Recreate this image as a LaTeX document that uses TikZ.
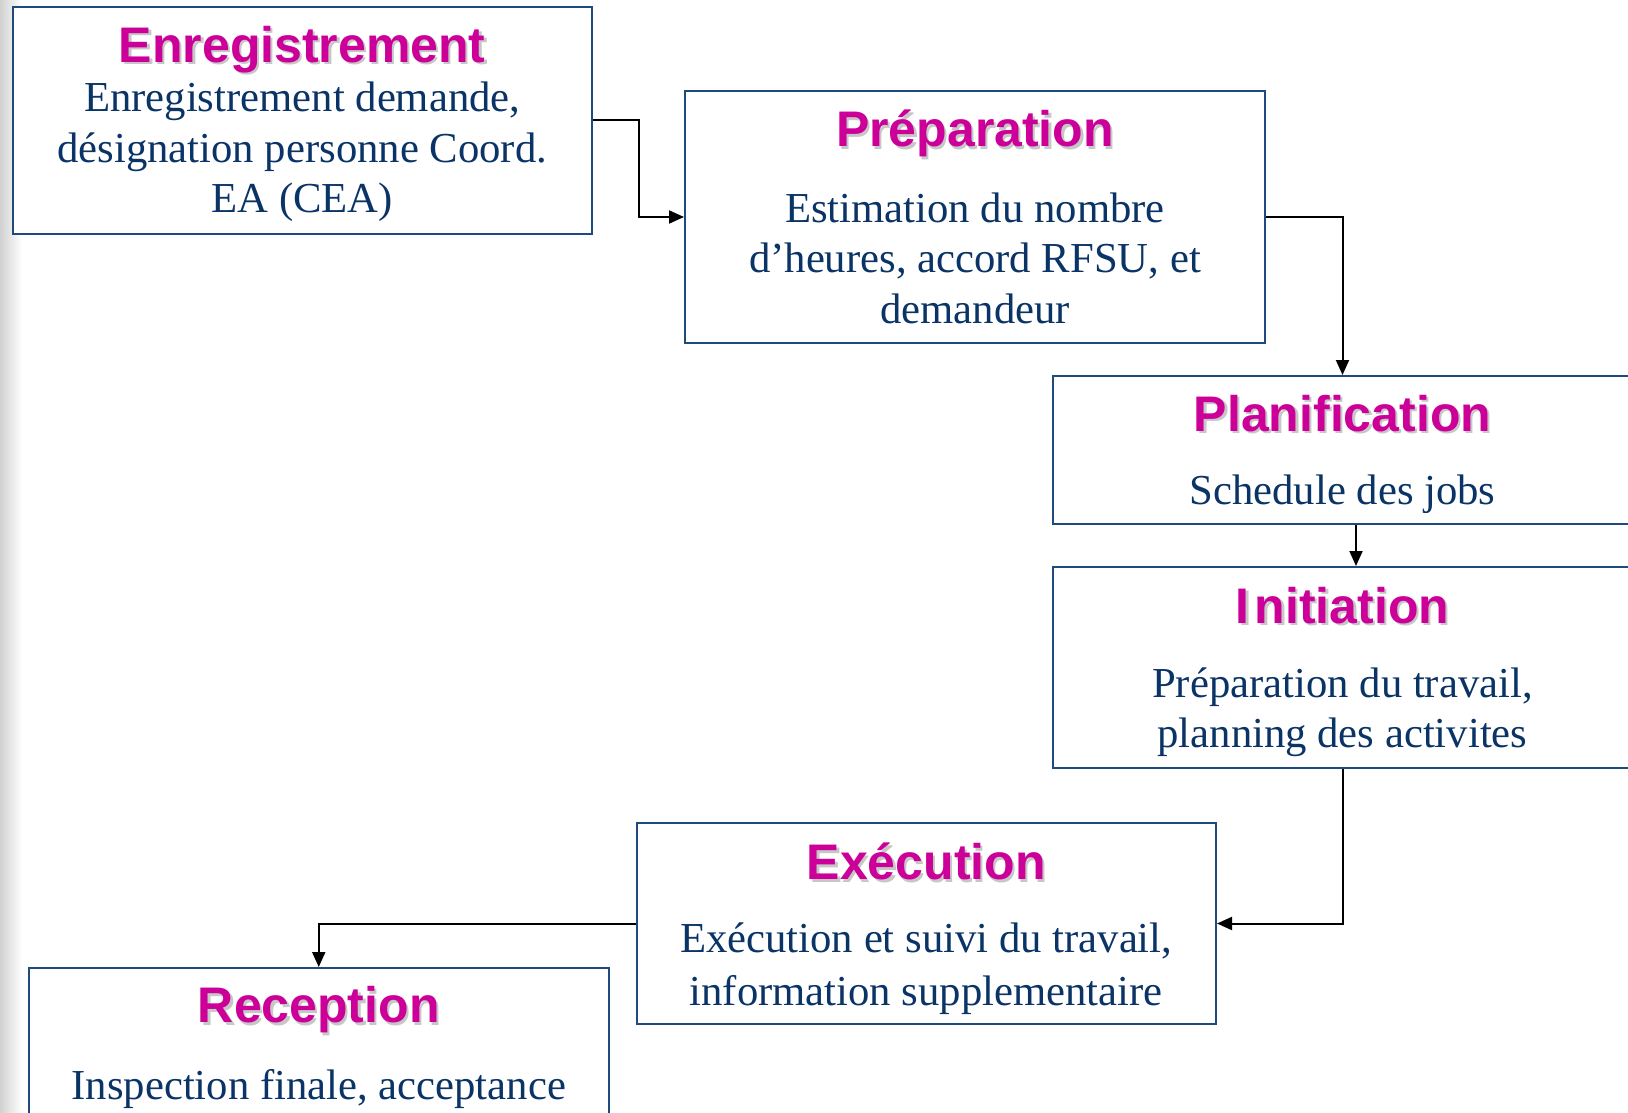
\documentclass[tikz,border=0pt]{standalone}
\usepackage{fontspec}
\setmainfont{Liberation Serif}
\newfontfamily\titlefont{Liberation Sans}
\usetikzlibrary{arrows.meta}
\definecolor{boxblue}{HTML}{1F4A7C}
\definecolor{bodyblue}{HTML}{0A3366}
\definecolor{titlemag}{HTML}{CC0099}
\tikzset{
  stagebox/.style={draw=boxblue, line width=2pt, fill=white, inner sep=0pt, anchor=center},
  titletext/.style={font=\titlefont\bfseries\fontsize{50}{60}\selectfont, text=titlemag, inner sep=0pt},
  titleshadow/.style={font=\titlefont\bfseries\fontsize{50}{60}\selectfont, text=black!22, inner sep=0pt},
  bodytext/.style={font=\fontsize{42.7}{50.5}\selectfont, text=bodyblue, align=center, inner sep=0pt},
  flow/.style={draw=black, line width=2pt, -{Triangle[length=15pt,width=13pt]}}
}
\begin{document}
\begin{tikzpicture}[x=1pt,y=-1pt]
\useasboundingbox (0,0) rectangle (1628,1113);
\clip (0,0) rectangle (1628,1113);
\shade[left color=black!18, right color=white] (0,0) rectangle (22,1113);

% boxes
\node[stagebox, minimum width=579.5pt, minimum height=226.3pt] (enr) at (302.25,120.45) {};
\node[stagebox, minimum width=580pt, minimum height=252pt] (prep) at (975,217) {};
\node[stagebox, minimum width=579pt, minimum height=148pt] (plan) at (1342.5,450) {};
\node[stagebox, minimum width=579pt, minimum height=201pt] (init) at (1342.5,667.5) {};
\node[stagebox, minimum width=579.5pt, minimum height=201pt] (exec) at (926.25,923.5) {};
\node[stagebox, minimum width=579.5pt, minimum height=250pt] (recep) at (318.75,1093) {};

% titles
\node[titleshadow] (enrts) at (304.5,52) {Enregistrement};
\node[titletext] (enrt) at (302.25,49.7) {Enregistrement};
\node[titleshadow] (prepts) at (977.25,136) {Préparation};
\node[titletext] (prept) at (975,133.8) {Préparation};
\node[titleshadow] (plants) at (1344.75,415.5) {Planification};
\node[titletext] (plant) at (1342.5,413.3) {Planification};
\node[titleshadow] (initts) at (1344.75,607.6) {I\kern5pt nitiation};
\node[titletext] (initt) at (1342.5,605.4) {I\kern5pt nitiation};
\node[titleshadow] (exects) at (928.5,864) {Exécution};
\node[titletext] (exect) at (926.25,861.8) {Exécution};
\node[titleshadow] (recepts) at (321,1012.2) {Reception};
\node[titletext] (recept) at (318.75,1010) {Reception};

% bodies
\node[bodytext] (enrb) at (302.25,152.2) {Enregistrement demande,\\désignation personne Coord.\\EA (CEA)};
\node[bodytext] (prepb) at (975,258) {Estimation du nombre\\d’heures, accord RFSU, et\\demandeur};
\node[bodytext] (planb) at (1342.5,494) {Schedule des jobs};
\node[bodytext] (initb) at (1342.5,712.5) {Préparation du travail,\\planning des activites};
\node[bodytext] (execb) at (926.25,968.5) {Exécution et suivi du travail,\\[2pt]information supplementaire};
\node[bodytext] (recepb) at (318.75,1089) {Inspection finale, acceptance};

% connectors
\draw[flow] (enr.east) -- ++(45.5,0) |- (prep.west);
\draw[flow] (prep.east) -| (plan.north);
\draw[flow] ([xshift=13.5pt]plan.south) -- ([xshift=13.5pt]init.north);
\draw[flow] (init.south) |- (exec.east);
\draw[flow] (exec.west) -| (recep.north);
\end{tikzpicture}
\end{document}
